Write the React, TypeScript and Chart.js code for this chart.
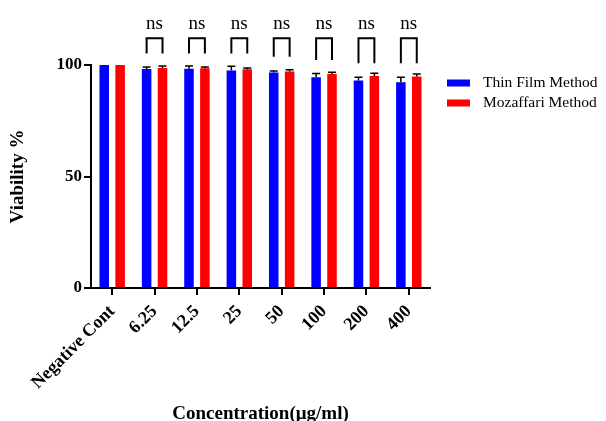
import React, { useEffect, useRef } from "react";
import { Chart, registerables } from "chart.js";

Chart.register(...registerables);

const categories = ["Negative Cont", "6.25", "12.5", "25", "50", "100", "200", "400"];
const thinFilm = [100, 98.2, 98.3, 97.5, 96.6, 94.5, 93.0, 92.3];
const mozaffari = [100, 98.6, 98.5, 98.1, 97.1, 96.0, 95.1, 94.8];
const thinFilmErr = [0, 0.9, 1.3, 1.9, 0.7, 1.7, 1.5, 2.2];
const mozaffariErr = [0, 0.9, 0.6, 0.6, 0.8, 0.8, 1.2, 1.2];
const sigLabels = ["", "ns", "ns", "ns", "ns", "ns", "ns", "ns"];
const bracketTop = 112;
const bracketLegBottom = [0, 105.2, 105.2, 105.2, 103.7, 102.2, 100.8, 100.8];
const sigTextValue = 118.5;
const yTicks = [0, 50, 100];

const FONT = "'Liberation Serif', 'Times New Roman', serif";

const overlayPlugin = {
  id: "overlay",
  afterDatasetsDraw(chart: any) {
    const ctx = chart.ctx;
    const y = chart.scales.y;
    const errs = [thinFilmErr, mozaffariErr];
    const vals = [thinFilm, mozaffari];
    ctx.save();
    ctx.strokeStyle = "#000";
    // error bars (upper only)
    ctx.lineWidth = 1.5;
    for (let d = 0; d < 2; d++) {
      const meta = chart.getDatasetMeta(d);
      meta.data.forEach((bar: any, i: number) => {
        const e = errs[d][i];
        if (!e) return;
        const yTop = y.getPixelForValue(vals[d][i] + e);
        const yBase = y.getPixelForValue(vals[d][i]);
        ctx.beginPath();
        ctx.moveTo(bar.x, yBase);
        ctx.lineTo(bar.x, yTop);
        ctx.moveTo(bar.x - 4, yTop);
        ctx.lineTo(bar.x + 4, yTop);
        ctx.stroke();
      });
    }
    // significance brackets
    const m0 = chart.getDatasetMeta(0);
    const m1 = chart.getDatasetMeta(1);
    ctx.lineWidth = 2;
    ctx.fillStyle = "#000";
    ctx.font = `19px ${FONT}`;
    ctx.textAlign = "center";
    ctx.textBaseline = "middle";
    sigLabels.forEach((lab, i) => {
      if (!lab) return;
      const x0 = m0.data[i].x;
      const x1 = m1.data[i].x;
      const yt = y.getPixelForValue(bracketTop);
      const yb = y.getPixelForValue(bracketLegBottom[i]);
      ctx.beginPath();
      ctx.moveTo(x0, yb);
      ctx.lineTo(x0, yt);
      ctx.lineTo(x1, yt);
      ctx.lineTo(x1, yb);
      ctx.stroke();
      ctx.fillText(lab, (x0 + x1) / 2, y.getPixelForValue(sigTextValue));
    });
    // legend
    ctx.textAlign = "left";
    ctx.font = `15.5px ${FONT}`;
    chart.data.datasets.forEach((ds: any, i: number) => {
      const cy = 83 + i * 20;
      ctx.fillStyle = ds.backgroundColor;
      ctx.fillRect(447, cy - 3.5, 23, 7);
      ctx.fillStyle = "#000";
      ctx.fillText(ds.label, 483, cy);
    });
    ctx.restore();
  },
};

export default function App() {
  const ref = useRef<HTMLCanvasElement>(null);
  useEffect(() => {
    document.body.style.margin = "0";
    const chart = new Chart(ref.current!, {
      type: "bar",
      data: {
        labels: categories,
        datasets: [
          { label: "Thin Film Method", data: thinFilm, backgroundColor: "#0000FF", categoryPercentage: 0.75, barPercentage: 0.6 },
          { label: "Mozaffari Method", data: mozaffari, backgroundColor: "#FF0000", categoryPercentage: 0.75, barPercentage: 0.6 },
        ],
      },
      options: {
        responsive: false,
        animation: false,
        layout: { padding: { left: 0, right: 176, top: 65, bottom: 0 } },
        plugins: { legend: { display: false }, tooltip: { enabled: false } },
        scales: {
          x: {
            grid: { display: true, drawOnChartArea: false, offset: false, color: "#000", lineWidth: 2, tickLength: 7 },
            border: { display: true, color: "#000", width: 2 },
            ticks: {
              color: "#000",
              font: { family: FONT, size: 18, weight: "bold" },
              maxRotation: 45,
              minRotation: 45,
              autoSkip: false,
              padding: 6,
            },
            title: {
              display: true,
              text: "Concentration(μg/ml)",
              color: "#000",
              font: { family: FONT, size: 19, weight: "bold", lineHeight: 1 },
              padding: { top: 0, bottom: -3 },
            },
            afterFit(scale: any) {
              scale.height = 133;
            },
          },
          y: {
            min: 0,
            max: 100,
            afterBuildTicks(scale: any) {
              scale.ticks = yTicks.map((v) => ({ value: v }));
            },
            grid: { display: true, drawOnChartArea: false, color: "#000", lineWidth: 2, tickLength: 7 },
            border: { display: true, color: "#000", width: 2 },
            ticks: {
              color: "#000",
              font: { family: FONT, size: 17, weight: "bold" },
              padding: 2,
            },
            title: {
              display: true,
              text: "Viability %",
              color: "#000",
              font: { family: FONT, size: 19, weight: "bold", lineHeight: 1.2 },
              padding: { top: 7, bottom: 0 },
            },
            afterFit(scale: any) {
              scale.width = 91;
            },
          },
        },
      },
      plugins: [overlayPlugin],
    });
    return () => chart.destroy();
  }, []);
  return (
    <div style={{ width: 606, height: 421 }}>
      <canvas ref={ref} width={606} height={421} />
    </div>
  );
}
